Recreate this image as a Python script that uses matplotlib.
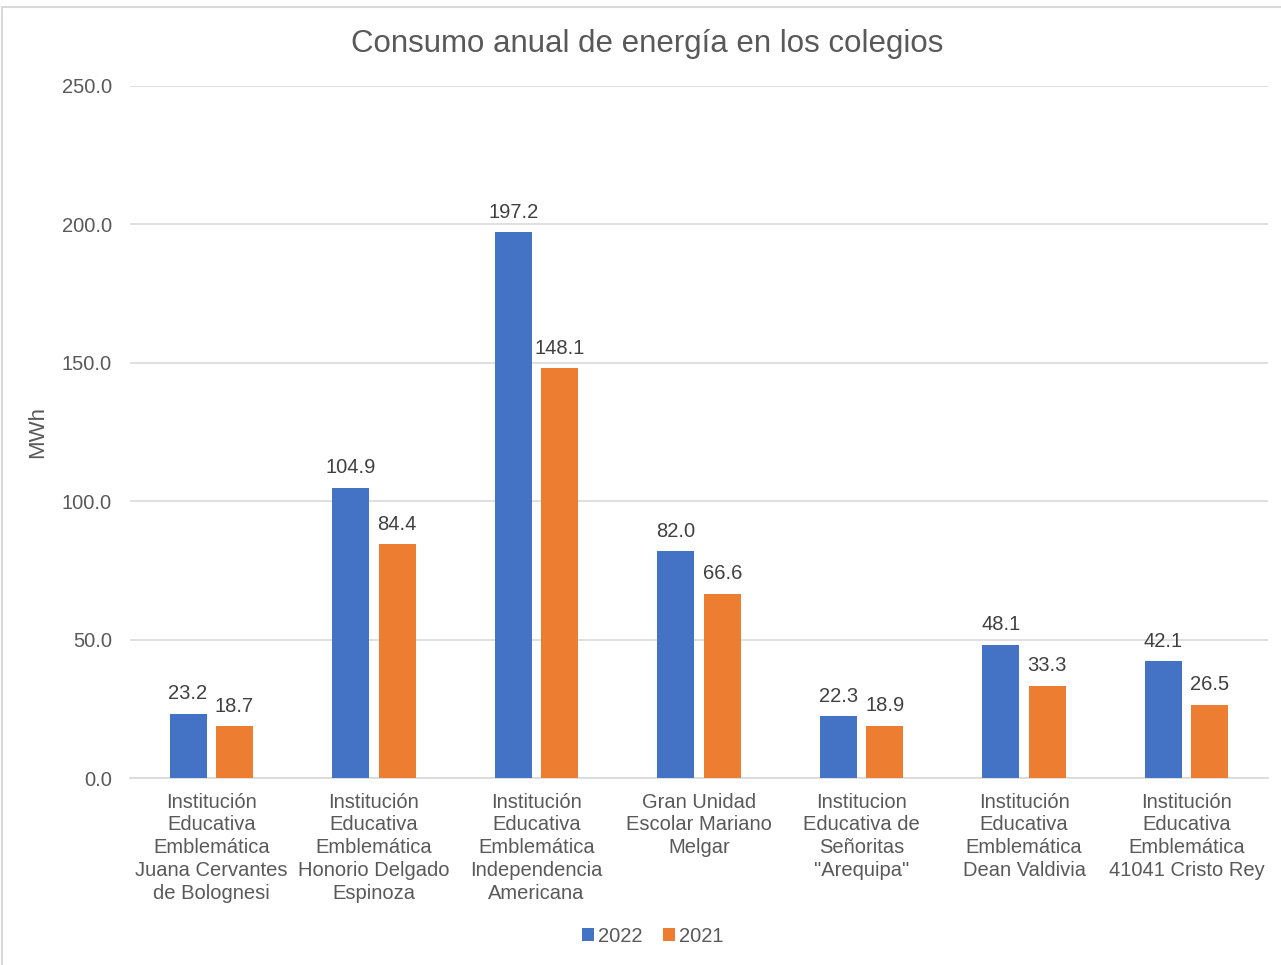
import numpy as np
import matplotlib.pyplot as plt
from matplotlib.patches import Rectangle

plt.rcParams['font.family'] = ['Liberation Sans', 'DejaVu Sans']

schools = [
    'Institución\nEducativa\nEmblemática\nJuana Cervantes\nde Bolognesi',
    'Institución\nEducativa\nEmblemática\nHonorio Delgado\nEspinoza',
    'Institución\nEducativa\nEmblemática\nIndependencia\nAmericana',
    'Gran Unidad\nEscolar Mariano\nMelgar',
    'Institucion\nEducativa de\nSeñoritas\n"Arequipa"',
    'Institución\nEducativa\nEmblemática\nDean Valdivia',
    'Institución\nEducativa\nEmblemática\n41041 Cristo Rey',
]
mwh_2022 = [23.2, 104.9, 197.2, 82.0, 22.3, 48.1, 42.1]
mwh_2021 = [18.7, 84.4, 148.1, 66.6, 18.9, 33.3, 26.5]
yticks = [0, 50, 100, 150, 200, 250]

blue = '#4472C4'
orange = '#ED7D31'
grey = '#595959'

W, H = 1281, 965
fig = plt.figure(figsize=(W / 100, H / 100), dpi=100)
ax = fig.add_axes([130 / W, 1 - 778 / H, (1268 - 130) / W, (778 - 86) / H])

# chart border like the excel frame
fig.patches.append(Rectangle((2 / W, -0.1), 1.2, 1 - 7 / H + 0.1, transform=fig.transFigure,
                             fill=False, edgecolor='#d9d9d9', linewidth=1.5))

x = np.arange(len(schools))
bw = 0.228
off = 0.143
b1 = ax.bar(x - off, mwh_2022, bw, color=blue, label='2022', zorder=3)
b2 = ax.bar(x + off, mwh_2021, bw, color=orange, label='2021', zorder=3)

for bars, vals in ((b1, mwh_2022), (b2, mwh_2021)):
    for r, v in zip(bars, vals):
        ax.annotate('%0.1f' % v, xy=(r.get_x() + r.get_width() / 2, v), xytext=(0, 7.5),
                    textcoords='offset points', ha='center', va='bottom',
                    fontsize=14.5, color='#404040')

ax.set_xlim(-0.5, len(schools) - 0.5)
ax.set_ylim(0, 250)
ax.set_yticks(yticks)
ax.set_yticklabels(['%0.1f' % t for t in yticks])
ax.set_xticks(x)
ax.set_xticklabels(schools, linespacing=1.25)
ax.tick_params(axis='both', length=0, labelsize=14.5, labelcolor=grey)
ax.tick_params(axis='y', pad=13)
ax.tick_params(axis='x', pad=10.5)
ax.grid(axis='y', color='#d9d9d9', linewidth=1.2, zorder=0)
for s in ['top', 'right', 'left']:
    ax.spines[s].set_visible(False)
ax.spines['bottom'].set_color('#d9d9d9')
ax.spines['bottom'].set_linewidth(1.2)

ax.set_ylabel('MWh', fontsize=16, color=grey, labelpad=10)
fig.text(647 / W, 1 - 44 / H, 'Consumo anual de energía en los colegios',
         ha='center', va='center', fontsize=22.5, color=grey)

fig.legend(loc='center', bbox_to_anchor=(653 / W, 1 - 936 / H), ncol=2, frameon=False,
           fontsize=14.5, labelcolor=grey, handlelength=0.6, handleheight=0.6,
           handletextpad=0.2, columnspacing=1.0)

fig.savefig('out.png', dpi=100)
